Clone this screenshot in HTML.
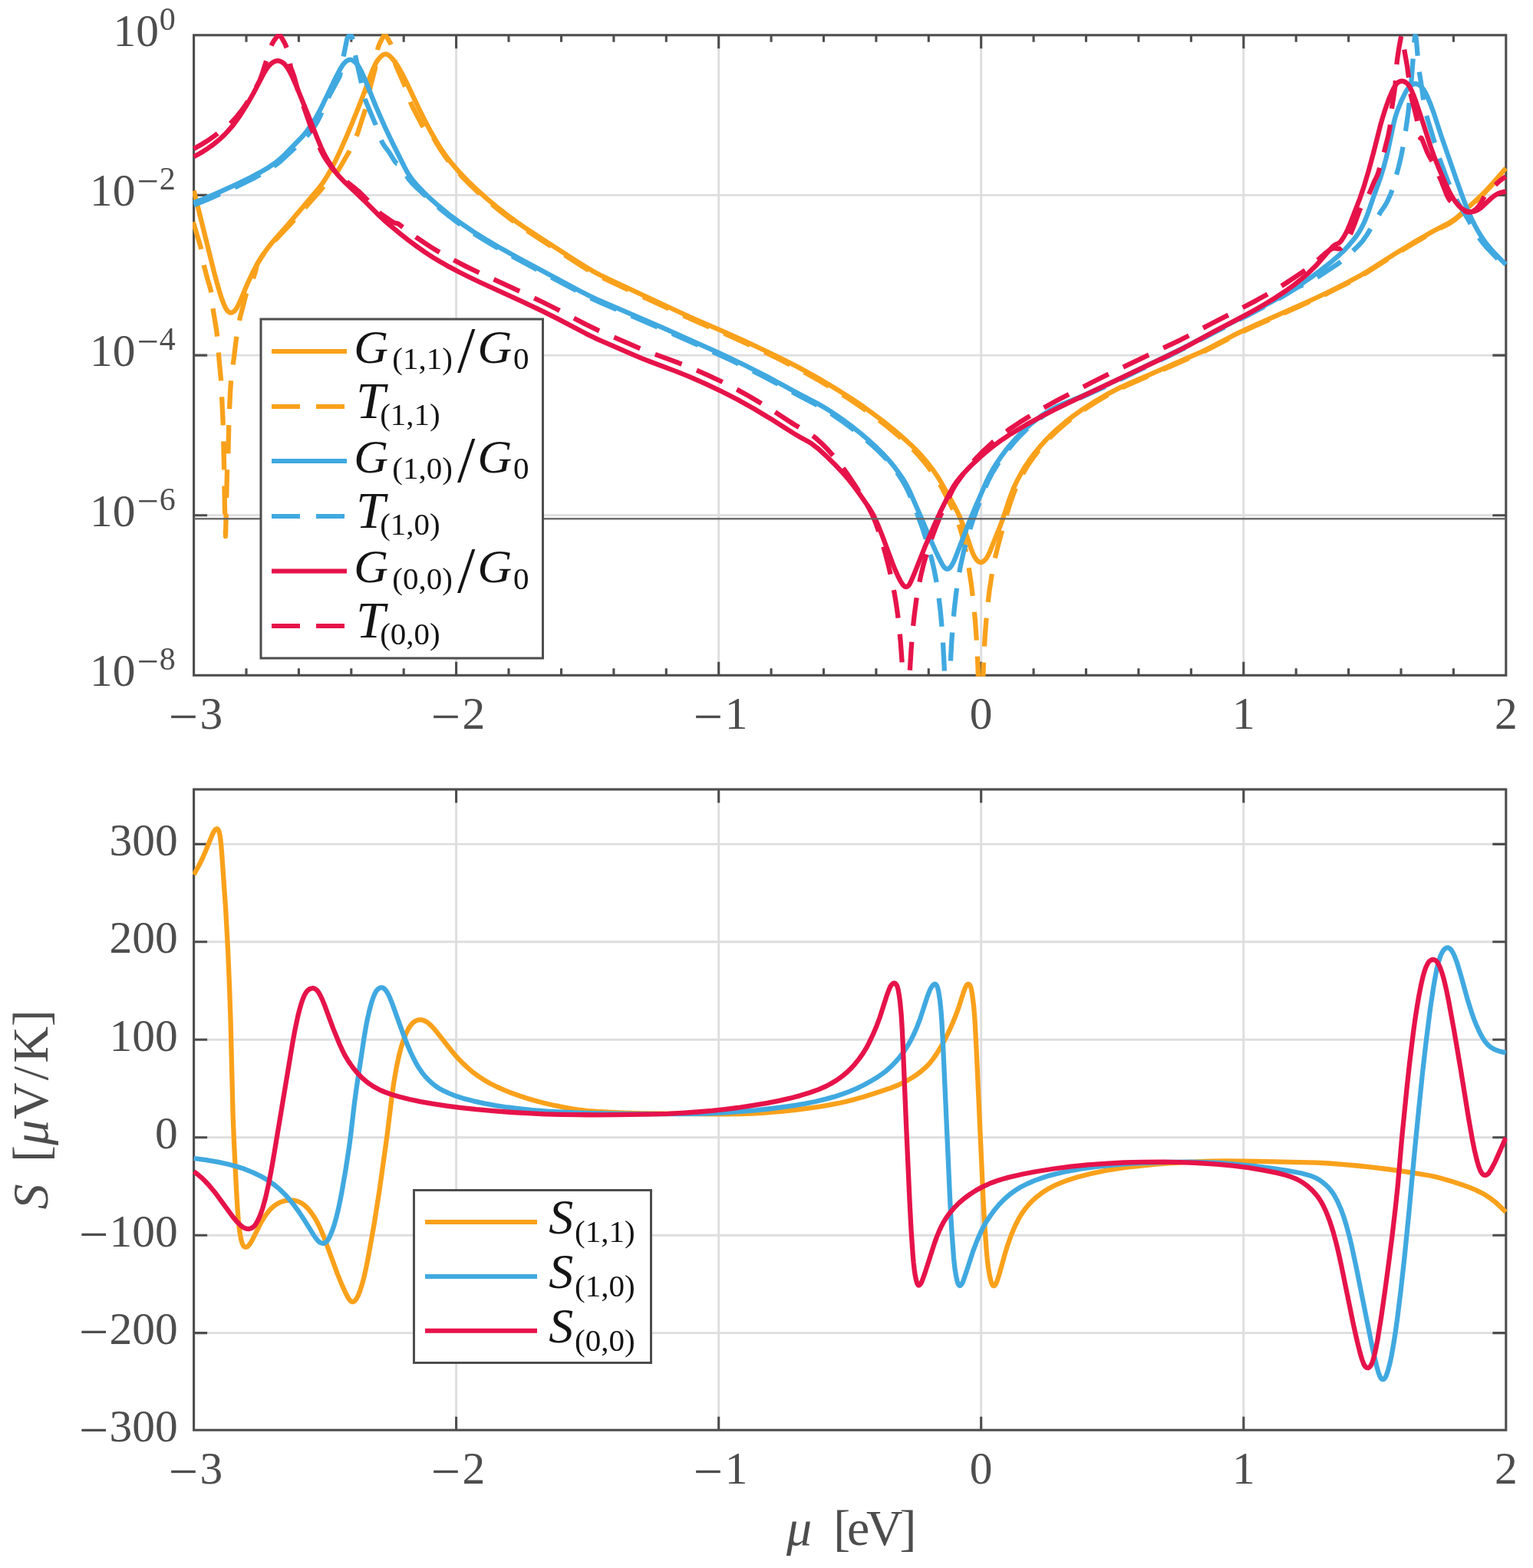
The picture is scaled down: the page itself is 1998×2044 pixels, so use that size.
<!DOCTYPE html>
<html lang="en"><head><meta charset="utf-8"><title>Conductance, transmission and thermopower</title>
<style>html,body{margin:0;padding:0;background:#fff}svg{display:block}</style></head>
<body>
<svg xmlns="http://www.w3.org/2000/svg" width="1998" height="2044" viewBox="0 0 1998 2044">
<rect width="1998" height="2044" fill="#fff"/>
<defs><clipPath id="ct"><rect x="251.1" y="44.3" width="1713.2" height="837.5"/></clipPath>
<clipPath id="cb"><rect x="251.1" y="1027.5" width="1713.2" height="838.2"/></clipPath></defs>
<g stroke="#dededf" stroke-width="2.9" fill="none">
<path d="M594.6,45.8V880.3 M594.6,1029.0V1864.2 M936.7,45.8V880.3 M936.7,1029.0V1864.2 M1278.7,45.8V880.3 M1278.7,1029.0V1864.2 M1620.8,45.8V880.3 M1620.8,1029.0V1864.2 M252.6,254.4H1962.8 M252.6,463.1H1962.8 M252.6,671.7H1962.8 M252.6,1100.4H1962.8 M252.6,1227.8H1962.8 M252.6,1355.2H1962.8 M252.6,1482.7H1962.8 M252.6,1610.2H1962.8 M252.6,1737.6H1962.8"/>
</g>
<g stroke="#4d4d4d" stroke-width="3.1" fill="none">
<rect x="252.6" y="45.8" width="1710.2" height="834.5"/>
<rect x="252.6" y="1029.0" width="1710.2" height="835.2"/>
<path d="M321.0,45.8v9.0 M321.0,880.3v-9.0 M389.4,45.8v9.0 M389.4,880.3v-9.0 M457.8,45.8v9.0 M457.8,880.3v-9.0 M526.2,45.8v9.0 M526.2,880.3v-9.0 M594.6,45.8v17.5 M594.6,880.3v-17.5 M594.6,1029.0v17.5 M594.6,1864.2v-17.5 M663.0,45.8v9.0 M663.0,880.3v-9.0 M731.5,45.8v9.0 M731.5,880.3v-9.0 M799.9,45.8v9.0 M799.9,880.3v-9.0 M868.3,45.8v9.0 M868.3,880.3v-9.0 M936.7,45.8v17.5 M936.7,880.3v-17.5 M936.7,1029.0v17.5 M936.7,1864.2v-17.5 M1005.1,45.8v9.0 M1005.1,880.3v-9.0 M1073.5,45.8v9.0 M1073.5,880.3v-9.0 M1141.9,45.8v9.0 M1141.9,880.3v-9.0 M1210.3,45.8v9.0 M1210.3,880.3v-9.0 M1278.7,45.8v17.5 M1278.7,880.3v-17.5 M1278.7,1029.0v17.5 M1278.7,1864.2v-17.5 M1347.1,45.8v9.0 M1347.1,880.3v-9.0 M1415.5,45.8v9.0 M1415.5,880.3v-9.0 M1483.9,45.8v9.0 M1483.9,880.3v-9.0 M1552.4,45.8v9.0 M1552.4,880.3v-9.0 M1620.8,45.8v17.5 M1620.8,880.3v-17.5 M1620.8,1029.0v17.5 M1620.8,1864.2v-17.5 M1689.2,45.8v9.0 M1689.2,880.3v-9.0 M1757.6,45.8v9.0 M1757.6,880.3v-9.0 M1826.0,45.8v9.0 M1826.0,880.3v-9.0 M1894.4,45.8v9.0 M1894.4,880.3v-9.0 M252.6,254.4h17.5 M1962.8,254.4h-17.5 M252.6,463.1h17.5 M1962.8,463.1h-17.5 M252.6,671.7h17.5 M1962.8,671.7h-17.5 M252.6,1100.4h17.5 M1962.8,1100.4h-17.5 M252.6,1227.8h17.5 M1962.8,1227.8h-17.5 M252.6,1355.2h17.5 M1962.8,1355.2h-17.5 M252.6,1482.7h17.5 M1962.8,1482.7h-17.5 M252.6,1610.2h17.5 M1962.8,1610.2h-17.5 M252.6,1737.6h17.5 M1962.8,1737.6h-17.5"/>
</g>
<g clip-path="url(#ct)" fill="none" stroke-width="6.3" stroke-linejoin="round">
<path d="M252.6,248.5 279.1,354.9 283.6,371.7 287.6,385.1 289.6,391.0 292.1,397.4 294.1,401.6 296.1,404.8 298.1,406.7 300.1,407.6 301.1,407.7 302.1,407.5 304.1,406.5 305.6,405.3 307.1,403.6 309.6,399.7 313.6,391.1 323.1,368.6 328.6,356.8 332.1,350.0 336.1,342.7 340.1,336.1 344.1,330.0 349.6,322.5 355.6,315.1 374.6,293.6 414.6,246.4 420.6,238.6 426.6,229.3 432.1,219.6 437.6,208.9 444.1,195.0 451.6,177.9 459.1,160.1 466.6,141.5 472.6,126.1 482.6,99.0 486.1,90.3 488.6,84.8 490.6,81.1 492.6,78.1 495.1,75.1 497.6,72.7 499.6,71.3 501.6,70.6 503.1,70.5 505.1,71.1 506.6,72.0 508.6,73.7 513.1,78.5 516.6,83.3 520.6,89.9 524.6,97.1 529.1,105.9 546.1,141.9 555.6,160.8 561.6,171.9 567.6,182.4 573.1,191.4 578.1,198.9 583.6,206.5 589.1,213.4 595.6,221.0 602.6,228.6 610.1,236.3 618.1,244.1 626.6,251.9 635.6,259.8 647.1,269.4 659.1,278.8 671.6,288.1 685.1,297.5 701.6,308.4 750.6,339.9 764.6,348.6 774.1,354.2 782.1,358.5 791.6,363.1 883.6,406.0 905.1,415.8 945.6,433.4 969.6,444.1 1000.1,458.5 1025.6,471.0 1042.1,479.6 1056.1,487.2 1070.6,495.5 1088.1,506.0 1101.6,514.4 1113.6,522.2 1126.1,530.7 1138.6,539.7 1151.6,549.5 1163.6,559.1 1175.6,569.3 1186.6,579.3 1194.6,587.1 1201.6,594.7 1209.1,603.6 1216.1,612.7 1221.6,620.7 1227.1,629.7 1242.6,657.2 1248.1,667.8 1251.6,675.6 1254.6,683.1 1257.6,691.5 1265.6,715.3 1267.6,720.5 1269.6,724.8 1272.1,728.9 1274.1,731.1 1275.1,731.9 1276.6,732.7 1278.6,733.1 1279.6,732.9 1281.1,732.2 1282.6,731.1 1284.1,729.6 1285.6,727.7 1287.1,725.3 1289.6,720.4 1304.1,684.3 1307.6,674.5 1315.6,650.5 1320.1,638.6 1323.1,631.8 1326.6,624.7 1331.1,616.4 1335.6,608.8 1341.6,599.9 1348.6,590.5 1355.6,581.9 1363.1,573.6 1370.6,566.0 1378.6,558.6 1388.1,550.6 1398.1,542.8 1412.1,532.8 1427.6,522.9 1442.6,514.1 1458.1,506.1 1472.6,499.4 1501.1,487.1 1567.1,458.1 1577.6,452.9 1606.6,437.7 1622.1,430.1 1635.1,424.1 1688.1,400.7 1711.6,390.0 1728.6,382.0 1752.6,370.0 1775.1,357.9 1784.6,352.1 1817.6,331.1 1840.6,317.1 1867.6,301.5 1876.6,296.7 1888.6,290.6 1894.6,286.7 1900.6,281.9 1910.1,273.5 1923.6,261.3 1932.1,253.2 1938.1,247.1 1944.6,240.0 1962.6,219.3" stroke="#F9A11B"/>
<path d="M251.8,289.3 261.5,321.9 262.8,327.7 265.2,342.6 266.4,348.4 270.5,363.9 273.7,374.5 274.9,379.3 275.9,386.2 277.8,404.1 282.2,430.8 283.3,439.7 285.7,470.6 288.0,494.5 290.6,549.4 291.9,601.4 292.9,659.4 294.0,699.2 296.1,611.2 297.4,591.3 298.4,547.3 300.2,509.3 301.2,494.4 302.3,484.4 304.9,466.6 307.8,442.8 310.2,427.0 313.0,413.3 316.6,399.7 319.5,388.0 320.9,383.2 322.7,378.6 327.5,369.8 329.3,365.2 332.7,354.7 333.9,349.9 335.0,344.7 339.6,337.1 344.1,330.5 349.1,324.0 355.1,316.9 379.1,291.6 412.6,254.0 418.6,246.9 425.1,238.7 428.1,235.6 434.6,229.8 437.6,226.5 439.6,223.9 442.1,220.0 455.1,197.5 461.6,184.3 466.1,173.8 477.1,139.6 478.6,133.2 483.1,111.4 488.6,90.7 489.6,84.1 491.6,67.8 492.6,62.6 494.6,57.2 499.1,48.4 500.6,46.3 501.1,45.9 502.1,45.9 503.1,46.7 504.6,49.0 508.6,56.0 510.6,60.4 511.6,63.6 512.1,65.9 514.6,80.1 515.6,84.2 518.1,90.3 529.1,115.2 530.6,119.4 534.1,130.7 535.6,135.0 538.6,141.3 552.6,167.9 553.1,168.6 554.1,169.5 555.1,169.6 557.1,169.2 558.1,169.2 559.1,169.8 559.6,170.4 570.1,188.6 574.6,195.7 578.6,201.6 583.1,207.8 588.1,214.2 594.1,221.3 600.1,228.0 611.6,239.8 624.1,251.7 638.1,263.9 652.6,275.8 662.1,283.1 672.6,290.8 683.6,298.5 695.1,306.2 758.6,347.0 769.1,353.4 778.1,358.4 794.1,366.3 890.1,411.1 908.6,419.4 955.6,439.9 992.1,456.8 1013.6,467.2 1033.1,477.1 1051.1,486.7 1067.6,496.1 1089.6,509.2 1107.6,520.6 1124.6,532.2 1141.6,544.6 1157.6,557.0 1172.6,569.7 1186.1,582.2 1192.1,588.1 1197.1,593.5 1206.6,604.7 1215.1,615.8 1221.6,625.4 1228.1,636.7 1238.6,657.3 1244.6,670.3 1247.1,676.5 1249.6,683.5 1252.1,691.4 1254.1,698.5 1256.6,708.7 1258.6,717.9 1262.6,739.4 1266.1,763.0 1269.1,788.5 1271.1,810.4 1273.1,839.9 1274.6,871.5 1275.6,901.6 1276.1,905.0 1280.1,905.0 1280.6,901.8 1282.1,859.9 1283.6,832.0 1285.1,811.3 1287.1,790.0 1289.6,769.3 1293.1,746.4 1296.6,728.4 1301.1,710.0 1311.6,672.3 1316.6,655.9 1321.6,641.9 1324.6,634.8 1327.6,628.3 1332.1,619.5 1336.1,612.4 1340.6,605.2 1345.6,597.9 1351.1,590.5 1357.1,583.0 1363.1,576.1 1369.6,569.3 1377.6,561.7 1387.1,553.4 1396.6,545.7 1406.6,538.3 1417.6,530.8 1429.1,523.5 1440.1,517.0 1451.6,510.7 1461.6,505.7 1471.6,501.1 1555.1,464.6 1567.6,459.0 1578.1,453.8 1606.6,438.8 1622.1,431.2 1635.1,425.2 1666.6,411.4 1691.6,400.1 1713.6,390.1 1730.1,382.3 1755.1,369.7 1768.6,362.5 1777.6,357.5 1785.6,352.6 1816.6,332.8 1840.6,318.2 1867.6,302.5 1876.6,297.7 1888.6,291.7 1894.6,287.7 1900.6,282.9 1910.1,274.6 1923.6,262.4 1932.1,254.3 1938.1,248.1 1944.6,241.1 1962.6,220.4" stroke="#F9A11B" stroke-dasharray="37 21" stroke-dashoffset="0.0"/>
<path d="M252.6,264.2 267.6,258.4 286.1,250.3 309.1,239.9 327.1,231.1 339.6,224.4 350.1,218.2 358.6,212.4 365.6,206.8 372.1,200.5 393.6,178.5 400.1,170.7 406.6,161.6 411.1,154.4 416.1,145.3 421.1,135.3 436.1,104.0 443.1,90.5 446.6,84.8 448.1,82.9 450.1,80.8 452.1,79.3 453.6,78.5 455.1,77.9 456.6,77.8 458.1,78.0 459.6,78.7 462.6,80.8 465.6,84.0 468.1,87.7 471.1,93.3 476.1,104.5 490.1,139.2 501.1,164.2 507.1,177.1 514.6,192.5 526.6,216.5 531.1,224.9 534.1,229.7 537.1,233.8 541.1,238.7 546.1,244.3 551.6,250.0 557.6,255.9 571.1,268.0 585.1,279.5 599.1,289.9 617.1,302.1 635.1,313.3 652.6,323.6 673.6,335.3 756.1,379.5 767.1,385.1 777.1,389.8 864.1,427.4 936.1,459.7 953.6,467.8 970.6,476.0 1000.1,491.0 1037.6,511.4 1065.1,525.8 1073.1,530.4 1081.6,535.7 1090.6,541.6 1099.1,547.5 1110.1,555.7 1121.6,564.9 1133.1,574.7 1143.6,584.4 1151.6,592.3 1158.6,600.0 1165.6,608.5 1172.1,617.3 1176.6,624.0 1180.1,629.8 1183.1,635.3 1186.1,641.4 1196.6,665.4 1214.1,706.6 1219.6,718.8 1224.6,729.1 1228.1,735.7 1230.6,739.4 1232.6,741.2 1233.6,741.7 1234.6,741.8 1235.6,741.7 1236.6,741.2 1238.6,739.5 1240.6,736.8 1243.1,732.0 1245.6,726.0 1262.1,683.2 1270.1,663.6 1286.1,626.8 1289.6,619.7 1293.6,612.5 1299.1,603.5 1304.6,595.4 1310.6,587.3 1317.1,579.3 1324.6,570.9 1332.1,563.1 1339.1,556.5 1346.6,550.2 1354.1,544.4 1361.6,539.1 1368.6,534.8 1375.6,530.9 1383.1,527.5 1397.6,521.7 1409.6,516.6 1431.1,506.9 1464.6,491.1 1530.6,459.3 1546.1,451.5 1583.6,431.8 1629.6,408.2 1658.1,393.0 1671.6,385.4 1684.1,377.8 1697.6,369.2 1709.6,360.9 1721.6,352.0 1735.6,340.9 1745.1,332.8 1752.1,326.1 1757.6,320.1 1762.6,314.3 1766.6,309.3 1769.6,305.1 1772.6,300.3 1775.1,295.8 1777.6,290.7 1780.1,285.0 1783.1,277.1 1790.1,256.8 1797.6,236.1 1800.6,227.2 1803.1,218.9 1806.1,208.0 1809.1,195.6 1816.6,160.1 1818.6,152.4 1820.6,146.2 1823.1,139.5 1826.1,132.2 1829.1,125.8 1832.1,119.9 1834.1,116.5 1836.1,113.8 1838.1,111.9 1840.1,110.6 1843.1,109.4 1845.6,109.2 1848.1,109.9 1851.1,111.8 1853.6,114.3 1855.6,117.0 1858.1,121.4 1861.1,127.7 1864.6,136.2 1868.6,147.1 1878.1,176.4 1899.6,238.3 1905.6,255.1 1910.1,266.9 1914.1,276.6 1918.1,285.5 1922.1,293.5 1926.1,300.8 1930.1,307.4 1934.1,313.3 1938.6,319.3 1942.6,324.1 1947.1,329.1 1962.6,344.9" stroke="#40A9E0"/>
<path d="M252.6,267.2 262.6,263.4 271.6,259.7 307.1,243.8 329.1,233.1 338.1,228.3 346.1,223.7 357.6,216.3 361.6,213.4 365.6,210.2 391.6,186.2 397.1,180.7 402.1,175.0 406.6,169.3 410.1,164.3 413.6,158.5 417.6,150.6 424.1,135.1 426.6,129.7 430.1,122.9 442.1,100.8 442.6,99.5 443.6,95.4 446.6,78.8 452.1,51.7 452.6,49.9 454.1,47.5 455.6,46.1 457.1,45.8 457.6,46.1 458.1,46.9 459.1,49.4 461.1,57.2 463.1,71.8 464.1,77.2 471.1,108.3 473.6,121.1 475.1,127.6 476.1,130.5 489.6,162.6 495.6,179.7 497.1,183.4 498.6,186.4 501.1,190.4 507.1,198.3 512.6,207.2 515.1,210.9 517.1,213.2 517.6,213.2 518.1,212.9 518.6,213.1 521.1,216.0 524.1,220.2 531.6,231.9 534.1,235.3 536.6,238.2 543.6,245.2 564.6,264.4 573.6,272.2 583.1,279.9 595.6,289.4 610.1,299.5 626.1,309.8 643.1,320.1 659.6,329.6 678.1,339.8 762.1,384.7 771.6,389.4 783.1,394.6 863.6,429.2 928.1,458.2 953.6,470.0 974.6,480.2 995.1,490.6 1011.1,499.1 1038.1,514.0 1064.6,527.9 1076.1,534.7 1088.6,542.8 1099.6,550.5 1112.6,560.2 1125.6,570.7 1137.1,580.6 1147.1,590.0 1155.1,598.3 1159.6,603.5 1164.1,609.1 1168.1,614.5 1172.1,620.3 1175.6,625.7 1179.1,631.7 1182.1,637.4 1184.6,642.7 1188.1,650.9 1193.1,663.5 1202.1,688.1 1208.6,708.3 1214.1,728.2 1217.6,743.3 1220.6,758.9 1223.1,775.0 1225.6,795.8 1227.6,817.8 1229.1,839.2 1230.6,867.8 1232.1,905.0 1237.1,905.0 1238.6,868.0 1240.1,839.5 1241.6,818.0 1243.6,795.6 1246.1,773.6 1249.1,753.0 1252.1,736.5 1256.1,718.6 1261.6,698.2 1267.6,679.2 1274.1,661.2 1284.6,634.6 1288.6,625.5 1292.6,617.7 1301.6,603.2 1307.6,594.4 1314.1,585.7 1321.6,576.7 1329.1,568.4 1336.6,560.9 1344.1,554.2 1352.6,547.3 1361.1,541.2 1369.1,536.1 1374.6,533.0 1380.6,530.1 1409.1,518.2 1435.6,506.1 1466.6,491.4 1531.1,460.2 1547.1,452.1 1582.1,433.6 1625.1,411.6 1650.1,398.5 1671.1,386.7 1691.1,374.5 1693.6,373.3 1700.1,370.6 1711.1,364.8 1718.6,360.3 1727.1,354.9 1742.6,344.6 1749.6,339.4 1760.1,330.2 1770.6,320.1 1776.1,313.9 1781.6,306.0 1791.1,290.6 1799.6,276.0 1805.1,268.0 1807.6,263.7 1812.6,252.7 1814.6,247.2 1822.6,218.5 1826.1,203.9 1828.1,193.6 1832.1,169.8 1835.1,148.9 1837.1,130.7 1839.6,103.5 1843.6,51.2 1844.1,47.4 1844.6,45.8 1845.1,46.7 1846.1,53.8 1848.6,84.2 1849.6,93.0 1851.6,104.7 1854.6,125.8 1856.6,138.5 1858.1,146.9 1858.6,148.9 1875.6,205.1 1877.6,210.8 1887.6,237.5 1891.6,246.6 1900.6,264.6 1912.6,284.5 1921.6,300.6 1926.6,308.5 1932.1,316.0 1938.1,323.1 1949.6,335.2 1962.6,348.4" stroke="#40A9E0" stroke-dasharray="37 21" stroke-dashoffset="0.0"/>
<path d="M252.6,204.3 259.1,200.8 265.1,197.2 271.1,193.3 276.6,189.4 282.1,185.1 287.1,180.8 292.1,176.1 296.6,171.4 302.1,165.2 307.1,158.8 312.1,151.7 318.1,142.4 324.1,132.5 330.1,122.0 344.1,95.1 346.6,91.0 349.1,87.5 351.1,85.1 353.6,82.8 356.1,81.0 358.6,79.8 361.1,79.2 363.1,79.3 365.1,79.8 367.6,81.0 370.6,83.3 373.6,86.9 377.1,92.5 380.6,99.3 386.6,113.1 400.6,147.5 413.6,180.4 418.6,192.3 421.6,198.7 424.6,204.4 429.1,212.0 433.6,219.2 436.6,223.4 440.1,227.8 449.1,237.3 475.6,262.4 495.1,282.0 501.1,287.5 509.1,294.4 521.6,304.7 533.1,313.7 544.1,321.9 554.1,328.9 563.6,335.1 573.1,340.8 585.6,347.9 598.6,354.8 610.6,360.8 624.6,367.5 679.6,392.7 707.1,405.7 727.1,415.6 763.6,434.8 779.1,442.3 824.1,461.9 837.6,467.6 849.6,472.3 880.6,483.9 898.1,490.9 918.6,499.9 938.6,509.3 960.6,520.5 982.6,532.8 1004.1,545.7 1035.6,565.6 1042.6,569.7 1053.1,575.4 1058.6,578.9 1066.1,584.7 1075.1,592.8 1088.6,606.0 1099.1,617.1 1106.1,625.3 1113.6,634.9 1121.1,645.2 1132.6,661.7 1135.6,666.6 1138.6,672.1 1141.6,678.3 1144.6,685.2 1149.6,697.7 1163.1,733.9 1166.6,742.6 1170.1,750.5 1173.6,757.5 1176.1,761.4 1177.6,763.2 1178.6,764.1 1180.1,764.9 1181.1,765.0 1182.6,764.6 1184.1,763.4 1185.6,761.2 1187.6,757.3 1191.1,749.1 1205.1,713.8 1219.1,681.2 1224.6,669.2 1229.6,658.9 1238.1,642.3 1242.6,634.3 1246.1,629.0 1250.1,623.8 1256.1,616.9 1263.1,609.5 1269.6,603.1 1276.6,596.6 1284.1,590.1 1292.1,583.6 1305.1,573.8 1318.1,565.2 1337.6,553.6 1357.1,542.9 1373.6,534.5 1392.1,525.4 1514.6,467.4 1537.1,456.5 1550.6,449.5 1583.6,431.6 1621.6,411.6 1635.6,403.9 1648.6,396.4 1662.1,388.2 1674.6,380.0 1686.1,371.7 1696.6,363.4 1705.6,355.6 1714.1,347.3 1720.6,340.2 1732.6,326.1 1736.6,321.8 1739.6,319.4 1744.6,317.1 1746.6,315.5 1749.1,312.4 1751.6,308.5 1754.1,304.0 1756.6,298.8 1759.6,291.6 1772.6,258.1 1777.6,243.3 1783.6,223.1 1790.1,199.2 1799.1,163.4 1802.1,153.0 1805.6,141.9 1810.6,127.9 1814.6,118.6 1817.1,113.8 1819.1,110.6 1820.6,108.8 1822.6,107.1 1824.6,106.1 1827.1,105.7 1829.1,105.9 1831.6,107.0 1833.6,108.5 1835.6,110.7 1837.1,112.9 1839.1,116.7 1842.1,123.6 1845.1,131.7 1853.6,156.9 1864.6,191.3 1869.1,203.8 1874.1,216.4 1883.6,238.7 1889.1,250.3 1892.1,255.7 1895.6,261.1 1898.6,265.2 1901.6,268.6 1904.1,270.9 1906.6,272.8 1909.1,274.2 1911.6,275.3 1914.1,275.9 1916.6,276.2 1919.1,276.0 1922.1,275.4 1925.6,273.9 1929.6,271.3 1933.6,267.8 1943.6,258.4 1946.6,256.0 1949.1,254.2 1952.1,252.5 1955.6,251.1 1959.1,250.2 1962.6,249.7" stroke="#E6134A"/>
<path d="M252.6,193.9 263.1,188.0 272.1,182.4 278.6,177.8 294.6,165.6 299.6,161.4 303.6,157.5 309.1,151.3 314.1,145.1 320.6,136.0 326.6,126.5 333.1,115.2 338.6,104.6 341.6,96.7 347.6,77.6 353.1,61.1 355.1,56.3 357.6,52.2 361.6,47.1 363.1,45.9 364.1,45.8 364.6,46.0 365.6,46.9 366.6,48.4 370.6,55.4 372.1,58.4 373.6,62.3 375.1,68.3 379.1,88.4 383.1,98.9 387.6,115.3 390.1,123.0 403.6,161.5 408.6,174.2 413.6,186.0 418.1,195.8 421.6,202.5 425.6,209.0 430.1,215.6 434.1,220.8 438.1,225.4 444.1,230.8 463.1,245.8 468.1,250.0 477.1,258.9 492.1,274.8 495.1,277.7 497.1,279.4 512.6,289.9 514.1,290.5 518.1,291.4 519.6,292.1 532.1,301.6 542.6,309.3 552.6,316.2 562.1,322.3 570.1,327.2 579.1,332.3 600.1,343.6 611.6,349.4 625.1,355.8 679.6,380.7 706.6,393.5 727.1,403.7 763.6,422.9 780.1,430.8 825.1,450.4 838.6,456.1 851.1,460.9 883.6,472.8 902.1,480.2 922.1,488.8 940.6,497.5 951.6,503.0 963.1,509.1 974.6,515.5 986.6,522.5 1006.6,534.8 1036.1,554.0 1054.1,564.4 1060.1,568.6 1064.6,572.3 1069.6,576.8 1076.1,583.2 1080.6,588.0 1087.1,595.5 1095.1,605.3 1099.6,611.1 1104.6,618.1 1111.6,628.4 1118.6,639.3 1126.1,651.6 1132.6,662.7 1135.6,668.5 1138.1,673.9 1140.6,680.0 1143.6,688.1 1147.1,698.5 1150.6,710.0 1154.1,722.5 1157.6,735.9 1160.6,748.4 1163.1,759.9 1165.6,772.7 1167.6,784.5 1169.6,798.1 1171.1,810.1 1173.6,835.2 1175.6,862.6 1177.6,903.1 1178.1,905.0 1184.1,905.0 1184.6,902.7 1186.1,870.1 1187.6,846.0 1189.6,821.4 1191.6,802.3 1194.1,783.3 1196.6,768.0 1200.1,750.5 1203.6,736.1 1208.1,720.3 1213.6,703.6 1219.6,687.3 1226.1,671.4 1235.6,650.8 1242.1,637.7 1247.1,629.4 1253.6,620.5 1264.6,606.3 1272.6,596.9 1282.1,587.3 1293.1,577.2 1303.6,568.4 1314.6,560.2 1328.6,550.8 1345.1,540.6 1360.6,531.5 1377.6,522.1 1393.6,513.7 1423.6,498.3 1449.1,485.6 1539.1,442.8 1551.1,436.6 1580.6,421.0 1618.1,401.8 1636.6,392.1 1651.1,384.0 1664.1,376.5 1676.1,369.0 1687.6,361.4 1701.6,351.8 1708.6,346.6 1715.6,340.7 1727.1,330.3 1732.6,326.2 1736.1,324.3 1738.6,323.7 1740.6,323.7 1744.1,324.4 1746.1,324.2 1748.1,323.2 1750.1,321.5 1752.1,319.4 1754.1,316.7 1756.1,313.5 1758.1,309.6 1761.1,302.8 1765.1,292.9 1772.1,273.9 1773.6,270.3 1776.1,265.8 1781.1,258.8 1783.1,255.3 1785.6,249.9 1791.1,236.6 1794.6,229.8 1796.6,224.3 1800.1,211.2 1804.6,195.6 1809.1,177.8 1811.6,165.3 1814.1,140.5 1817.6,117.5 1818.6,109.3 1820.1,86.6 1821.1,77.3 1823.1,63.6 1826.1,47.5 1826.6,45.8 1827.1,46.5 1828.1,50.8 1830.1,64.0 1834.1,86.8 1836.1,102.0 1837.6,118.4 1839.6,127.7 1844.1,144.9 1846.1,153.2 1847.6,160.8 1849.6,173.5 1850.6,178.5 1851.1,180.2 1851.6,180.3 1852.1,179.6 1852.6,179.8 1853.6,181.8 1860.1,198.4 1862.1,202.4 1867.1,211.3 1874.1,226.1 1878.6,236.3 1885.6,254.1 1887.1,257.2 1889.1,260.5 1890.6,262.3 1892.6,264.0 1898.6,267.9 1904.1,272.4 1907.6,274.6 1910.6,275.9 1913.6,276.6 1916.1,276.6 1918.6,276.0 1920.6,274.9 1923.1,273.1 1925.1,271.2 1927.6,268.4 1930.1,264.6 1936.1,253.7 1937.6,251.5 1939.1,249.9 1943.1,246.0 1949.1,240.9 1954.6,235.7 1958.1,233.1 1962.6,230.2" stroke="#E6134A" stroke-dasharray="37 21" stroke-dashoffset="0.0"/>
</g>
<path d="M252.6,676.2H1962.8" stroke="#636363" stroke-opacity="0.92" stroke-width="2.6" fill="none"/>
<g clip-path="url(#cb)" fill="none" stroke-width="6.3" stroke-linejoin="round">
<path d="M252.6,1140.3 259.1,1128.5 263.6,1119.5 267.1,1111.5 276.6,1088.3 278.1,1085.1 279.6,1082.6 281.1,1081.0 282.1,1080.5 283.1,1080.5 284.1,1081.3 285.1,1082.9 285.6,1084.3 286.6,1088.6 287.1,1091.8 288.1,1100.6 289.1,1112.4 294.1,1184.3 297.1,1239.1 299.1,1287.6 300.6,1331.9 303.6,1453.6 305.1,1490.8 308.1,1551.3 309.6,1576.5 310.6,1589.3 311.6,1599.2 312.6,1606.8 313.6,1612.8 314.6,1617.2 315.6,1620.5 316.6,1622.9 317.6,1624.4 318.6,1625.2 319.6,1625.6 321.1,1625.7 322.1,1625.3 323.1,1624.6 324.6,1623.0 326.1,1621.0 328.6,1616.8 339.1,1595.8 341.6,1591.3 344.6,1586.4 348.1,1581.5 351.6,1577.3 355.1,1573.8 359.1,1570.6 362.6,1568.5 366.6,1566.7 370.6,1565.5 374.6,1564.8 379.6,1564.6 384.1,1565.0 388.1,1566.0 391.6,1567.6 394.6,1569.4 397.6,1571.8 400.6,1574.6 403.1,1577.5 405.6,1580.7 408.6,1585.0 411.6,1589.8 414.1,1594.4 418.1,1602.8 422.1,1612.5 427.6,1627.1 439.6,1660.1 445.6,1674.9 450.6,1685.8 453.6,1691.6 455.1,1693.8 456.6,1695.6 458.1,1696.7 459.1,1697.1 460.1,1697.0 461.6,1696.3 462.6,1695.5 464.1,1693.7 466.6,1689.3 469.1,1683.0 472.1,1673.5 474.6,1664.1 477.1,1653.0 480.1,1637.9 487.6,1595.9 494.6,1551.2 504.6,1479.6 510.6,1430.6 513.1,1412.3 516.6,1392.0 520.1,1375.6 523.1,1364.3 526.1,1355.0 529.1,1347.4 532.6,1340.6 535.6,1336.1 537.1,1334.4 539.1,1332.5 541.1,1331.2 543.1,1330.2 545.1,1329.6 547.1,1329.3 548.6,1329.3 550.6,1329.7 554.1,1331.0 557.6,1333.2 561.1,1336.2 564.1,1339.3 568.1,1343.9 588.1,1369.3 593.1,1375.3 598.1,1380.8 604.1,1386.9 610.6,1392.9 617.1,1398.3 624.1,1403.4 631.1,1407.9 639.1,1412.5 648.1,1417.0 657.6,1421.2 666.6,1424.8 677.1,1428.5 689.1,1432.4 700.6,1435.7 711.6,1438.5 723.6,1441.2 735.6,1443.6 746.6,1445.5 756.6,1447.0 766.6,1448.1 777.6,1449.0 790.1,1449.7 812.1,1450.7 835.1,1451.3 931.6,1452.4 949.1,1452.4 964.1,1452.1 979.1,1451.6 993.6,1450.8 1008.1,1449.7 1023.1,1448.3 1039.1,1446.5 1054.1,1444.6 1068.1,1442.6 1081.1,1440.4 1092.6,1438.2 1103.6,1435.7 1114.1,1433.1 1125.1,1429.9 1144.6,1423.7 1161.1,1418.2 1168.6,1415.3 1175.6,1412.1 1182.6,1408.4 1189.1,1404.6 1194.6,1401.0 1200.1,1396.9 1205.1,1392.6 1209.1,1388.8 1212.6,1384.9 1216.1,1380.4 1220.1,1374.6 1224.1,1368.3 1229.1,1359.6 1233.6,1351.0 1238.1,1341.6 1242.1,1332.4 1245.6,1323.8 1249.1,1314.4 1255.6,1294.1 1258.1,1287.4 1259.1,1285.4 1260.6,1283.4 1261.6,1282.8 1262.6,1282.9 1263.6,1283.7 1264.1,1284.4 1265.1,1286.5 1266.1,1290.3 1267.1,1295.8 1269.1,1311.4 1270.6,1330.5 1272.6,1368.6 1281.6,1566.6 1283.1,1593.5 1285.6,1628.6 1286.6,1640.0 1287.6,1649.0 1288.6,1655.9 1290.1,1664.2 1291.6,1670.4 1292.6,1673.3 1294.1,1675.8 1295.1,1676.3 1296.1,1676.0 1297.6,1674.2 1298.6,1672.3 1299.6,1669.8 1302.6,1660.4 1309.6,1635.1 1313.1,1623.5 1318.1,1609.5 1323.1,1597.7 1328.1,1588.0 1330.6,1583.8 1333.6,1579.3 1336.6,1575.2 1340.1,1571.0 1343.6,1567.2 1347.1,1563.8 1351.6,1559.9 1356.1,1556.4 1360.6,1553.2 1365.6,1550.1 1370.6,1547.4 1376.1,1544.7 1382.1,1542.1 1388.6,1539.6 1396.1,1537.0 1404.1,1534.5 1420.6,1530.2 1439.6,1526.2 1459.6,1523.0 1474.1,1521.0 1490.1,1519.3 1506.6,1517.7 1523.6,1516.4 1545.1,1515.1 1564.1,1514.2 1580.1,1513.7 1597.6,1513.5 1638.6,1513.8 1716.6,1515.7 1732.1,1516.5 1749.6,1517.8 1768.1,1519.5 1788.1,1521.6 1807.6,1524.0 1827.1,1526.7 1847.6,1529.8 1863.6,1532.5 1871.1,1534.1 1879.1,1536.2 1892.1,1540.1 1905.1,1544.2 1914.6,1547.6 1923.1,1551.2 1930.6,1554.8 1937.6,1558.8 1943.6,1562.9 1949.6,1567.6 1954.6,1572.2 1962.6,1580.1" stroke="#F9A11B"/>
<path d="M252.6,1510.0 268.6,1512.2 284.6,1514.9 296.6,1517.5 308.1,1520.5 319.1,1524.1 329.6,1528.3 339.6,1533.1 348.6,1538.3 356.6,1543.8 364.1,1549.9 371.1,1556.7 378.1,1564.6 384.6,1572.8 390.6,1581.2 397.1,1591.1 408.6,1609.7 411.6,1614.0 414.1,1617.1 415.6,1618.5 417.1,1619.7 419.6,1620.7 421.1,1620.8 422.1,1620.6 423.6,1620.0 425.1,1618.9 426.6,1617.3 427.6,1615.9 430.1,1611.2 433.1,1604.0 435.6,1596.7 438.1,1588.0 440.6,1577.8 443.1,1566.2 445.6,1553.2 450.6,1524.2 455.1,1494.9 457.1,1479.7 462.1,1436.7 465.1,1415.1 474.6,1352.2 477.1,1337.5 479.1,1327.4 481.1,1318.6 483.6,1309.0 485.6,1302.6 487.6,1297.3 489.6,1293.2 491.6,1290.4 493.6,1288.6 495.1,1287.7 496.1,1287.4 497.6,1287.3 498.6,1287.5 500.1,1288.3 501.6,1289.5 504.1,1292.7 506.6,1297.3 508.6,1301.8 511.6,1309.4 524.6,1345.6 531.1,1362.3 535.1,1371.5 539.1,1379.9 542.6,1386.5 546.1,1392.3 550.1,1398.1 554.1,1403.1 558.6,1407.9 563.6,1412.5 568.1,1416.0 573.1,1419.3 578.6,1422.2 585.6,1425.4 595.1,1429.1 605.6,1432.4 617.1,1435.3 631.1,1438.4 645.6,1441.1 661.6,1443.5 677.6,1445.5 694.1,1447.2 712.6,1448.6 732.1,1449.7 753.6,1450.6 784.6,1451.5 827.1,1452.2 888.6,1452.2 907.6,1451.9 926.1,1451.3 945.1,1450.3 966.1,1448.8 984.6,1447.3 1001.6,1445.5 1020.1,1443.2 1036.6,1440.8 1049.6,1438.6 1062.6,1436.0 1075.6,1432.9 1086.6,1429.9 1097.1,1426.5 1107.1,1422.9 1116.6,1418.8 1125.6,1414.5 1134.6,1409.6 1142.6,1404.8 1149.6,1400.0 1155.6,1395.4 1161.6,1390.0 1167.1,1384.4 1172.6,1378.0 1177.6,1371.4 1182.1,1364.6 1186.6,1356.9 1190.6,1349.1 1194.1,1341.3 1199.1,1328.4 1208.6,1299.2 1211.6,1291.4 1213.6,1287.4 1215.1,1285.1 1217.1,1283.2 1218.1,1282.7 1218.6,1282.7 1219.1,1282.9 1220.1,1283.7 1221.1,1285.1 1222.1,1287.7 1223.1,1291.8 1225.1,1304.3 1226.6,1319.4 1227.6,1333.9 1229.1,1362.5 1238.1,1562.5 1239.1,1582.6 1240.6,1607.2 1243.1,1640.8 1244.6,1654.5 1246.1,1663.5 1247.6,1670.3 1248.6,1673.3 1249.1,1674.3 1250.1,1675.6 1251.1,1676.0 1251.6,1675.9 1252.6,1675.1 1254.1,1672.9 1255.1,1670.7 1260.1,1656.1 1268.6,1629.8 1273.1,1618.0 1278.1,1606.4 1281.6,1599.4 1285.6,1592.5 1290.6,1584.9 1295.6,1578.1 1302.1,1570.3 1308.6,1563.6 1315.6,1557.4 1323.1,1551.9 1330.6,1547.3 1339.1,1543.0 1348.6,1538.9 1359.6,1535.0 1367.1,1532.6 1374.6,1530.6 1391.1,1526.8 1409.1,1523.6 1429.1,1520.8 1451.1,1518.6 1476.1,1516.7 1501.6,1515.5 1529.1,1514.8 1550.1,1514.7 1569.1,1515.1 1588.6,1516.0 1609.6,1517.6 1635.6,1520.2 1657.1,1522.8 1677.1,1525.9 1696.6,1529.5 1706.6,1532.2 1710.6,1533.6 1714.6,1535.3 1718.1,1537.2 1721.1,1539.2 1724.6,1541.8 1728.1,1544.8 1731.1,1547.7 1733.6,1550.5 1736.1,1553.8 1738.6,1557.5 1743.1,1565.7 1747.6,1575.9 1751.1,1585.5 1754.6,1596.7 1758.6,1611.5 1762.1,1626.1 1768.1,1654.3 1787.6,1751.7 1790.6,1765.5 1794.1,1780.3 1796.6,1789.3 1798.6,1794.5 1799.6,1796.3 1800.6,1797.5 1801.6,1798.1 1802.6,1798.2 1803.6,1797.8 1804.6,1796.8 1805.6,1795.4 1806.6,1793.5 1809.1,1786.2 1811.6,1776.6 1813.6,1767.1 1816.1,1753.1 1818.6,1737.2 1821.1,1719.5 1825.6,1683.2 1830.6,1637.8 1836.1,1582.9 1843.6,1501.9 1849.6,1441.3 1854.1,1397.8 1858.6,1358.3 1864.1,1314.6 1868.6,1284.8 1871.1,1270.7 1873.1,1260.9 1875.1,1253.1 1877.1,1247.0 1878.6,1243.4 1880.6,1239.8 1882.6,1237.3 1884.6,1235.8 1886.6,1235.3 1887.6,1235.4 1888.6,1235.8 1890.6,1237.3 1892.1,1239.3 1893.6,1241.8 1895.6,1246.0 1897.6,1251.1 1899.6,1256.9 1903.6,1270.2 1913.1,1304.3 1918.6,1321.7 1921.6,1329.8 1924.6,1337.3 1927.6,1344.0 1930.1,1348.9 1933.1,1354.1 1936.1,1358.4 1939.1,1361.8 1942.6,1364.9 1946.6,1367.3 1951.1,1369.3 1956.1,1370.9 1962.6,1372.3" stroke="#40A9E0"/>
<path d="M252.6,1527.2 258.1,1531.3 262.6,1535.1 267.6,1540.0 273.1,1545.9 278.1,1551.9 283.1,1558.3 303.6,1586.4 309.1,1592.9 314.1,1597.8 316.6,1599.7 319.1,1601.0 322.1,1601.9 324.6,1602.0 327.1,1601.3 329.6,1599.8 331.6,1598.0 333.6,1595.3 336.1,1590.9 338.1,1586.6 340.1,1581.5 342.1,1575.7 346.1,1561.4 350.6,1541.1 353.6,1525.3 357.6,1502.3 381.1,1360.8 384.6,1341.7 388.1,1325.3 390.1,1317.2 392.6,1308.5 394.6,1302.6 396.6,1297.7 398.6,1294.1 400.6,1291.5 403.1,1289.5 405.6,1288.5 407.6,1288.2 409.1,1288.4 410.6,1289.0 412.1,1290.0 414.6,1292.7 417.6,1297.8 420.1,1303.1 422.6,1309.2 434.1,1340.4 442.6,1361.2 446.1,1368.9 449.6,1375.8 453.1,1381.7 456.6,1387.0 461.6,1393.8 466.1,1399.1 471.1,1404.3 476.1,1408.7 481.6,1412.9 487.6,1416.8 493.6,1420.1 500.1,1423.0 509.6,1426.5 520.6,1429.8 533.6,1433.0 548.1,1436.1 564.1,1438.9 582.1,1441.6 601.6,1444.1 620.6,1446.2 642.6,1448.1 667.1,1450.0 687.6,1451.2 710.6,1452.3 731.1,1452.9 752.6,1453.2 778.1,1453.3 805.6,1453.2 851.6,1452.4 870.6,1451.8 888.6,1450.8 909.1,1449.5 928.1,1447.9 944.6,1446.1 961.6,1444.0 980.6,1441.1 1000.1,1437.8 1015.6,1434.8 1029.6,1431.7 1043.1,1428.1 1055.6,1424.3 1067.1,1420.1 1076.6,1416.0 1083.6,1412.3 1090.6,1408.0 1097.1,1403.4 1103.6,1398.0 1109.1,1392.7 1114.1,1387.3 1119.6,1380.4 1124.6,1373.4 1128.6,1366.9 1132.6,1359.4 1137.6,1348.9 1142.1,1338.5 1146.6,1326.5 1156.1,1296.8 1159.6,1287.6 1161.1,1284.9 1162.6,1283.1 1164.1,1281.9 1165.6,1281.5 1166.1,1281.6 1167.1,1282.2 1168.6,1284.1 1169.6,1286.3 1170.6,1290.0 1172.1,1298.6 1173.1,1306.2 1174.6,1322.2 1175.6,1337.9 1176.6,1357.9 1181.1,1466.6 1185.6,1566.5 1187.6,1604.4 1189.6,1633.9 1190.6,1645.5 1191.6,1654.4 1192.6,1661.3 1194.1,1668.9 1195.1,1672.4 1195.6,1673.6 1196.6,1675.1 1197.1,1675.5 1197.6,1675.5 1198.1,1675.4 1199.1,1674.6 1200.6,1672.4 1202.1,1669.0 1205.6,1659.1 1217.6,1621.6 1221.1,1611.9 1224.1,1604.6 1227.1,1598.2 1230.1,1592.6 1233.6,1587.0 1237.1,1582.2 1243.1,1575.0 1249.6,1568.4 1256.6,1562.4 1264.1,1556.9 1272.6,1551.4 1281.6,1546.6 1290.6,1542.5 1300.1,1539.0 1306.6,1537.0 1314.1,1534.9 1333.1,1530.5 1351.6,1527.0 1373.6,1523.5 1395.6,1520.7 1418.1,1518.4 1440.1,1516.8 1464.6,1515.5 1489.1,1514.9 1516.1,1514.7 1539.1,1515.1 1561.6,1516.0 1585.6,1517.6 1607.1,1519.6 1627.1,1522.2 1646.1,1525.3 1664.1,1528.9 1676.1,1532.0 1681.6,1533.7 1686.6,1535.6 1691.1,1537.7 1695.1,1539.8 1699.6,1542.7 1703.6,1545.7 1708.1,1549.6 1712.1,1553.6 1715.6,1557.6 1718.6,1561.5 1721.6,1566.1 1724.1,1570.6 1728.6,1580.1 1733.1,1591.8 1737.6,1606.0 1741.6,1620.8 1745.1,1635.5 1748.6,1651.6 1764.1,1727.3 1769.1,1749.5 1772.6,1763.5 1775.1,1772.0 1777.6,1778.6 1778.6,1780.4 1780.1,1782.1 1781.6,1783.0 1782.6,1783.2 1783.6,1783.0 1784.6,1782.4 1786.1,1780.8 1787.1,1779.2 1788.6,1775.8 1790.6,1769.3 1792.6,1761.1 1795.1,1748.5 1800.1,1717.4 1805.1,1682.6 1810.1,1645.4 1814.6,1610.0 1818.6,1575.7 1821.6,1547.2 1827.1,1483.5 1833.6,1418.2 1837.1,1385.8 1842.1,1345.2 1844.6,1327.1 1847.1,1310.9 1849.6,1296.5 1852.1,1283.8 1854.6,1272.9 1856.6,1265.9 1858.6,1260.4 1861.1,1255.5 1862.1,1254.0 1863.6,1252.5 1865.1,1251.5 1866.6,1251.0 1868.1,1250.9 1869.6,1251.3 1871.1,1252.1 1872.6,1253.4 1874.6,1256.3 1877.1,1261.6 1879.6,1268.7 1882.1,1277.5 1885.1,1290.4 1888.1,1305.0 1895.1,1343.3 1903.6,1393.1 1914.1,1457.9 1919.1,1486.4 1921.6,1498.7 1924.6,1511.4 1927.1,1520.1 1929.1,1525.5 1930.1,1527.5 1931.6,1529.7 1933.1,1531.1 1934.6,1531.9 1936.1,1532.0 1937.6,1531.5 1939.1,1530.4 1940.6,1528.9 1943.6,1524.2 1948.6,1514.6 1962.6,1483.1" stroke="#E6134A"/>
</g>
<rect x="340" y="416" width="367.5" height="442" fill="#fff" stroke="#4d4d4d" stroke-width="3"/>
<path d="M354,458.0H452" stroke="#F9A11B" stroke-width="6"/>
<path d="M354,530.0H449" stroke="#F9A11B" stroke-width="6" stroke-dasharray="37 21"/>
<path d="M354,601.0H452" stroke="#40A9E0" stroke-width="6"/>
<path d="M354,673.0H449" stroke="#40A9E0" stroke-width="6" stroke-dasharray="37 21"/>
<path d="M354,744.5H452" stroke="#E6134A" stroke-width="6"/>
<path d="M354,816.0H449" stroke="#E6134A" stroke-width="6" stroke-dasharray="37 21"/>
<rect x="539.5" y="1551.5" width="309" height="225" fill="#fff" stroke="#4d4d4d" stroke-width="3"/>
<path d="M554,1593.0H700" stroke="#F9A11B" stroke-width="6"/>
<path d="M554,1664.0H700" stroke="#40A9E0" stroke-width="6"/>
<path d="M554,1734.7H700" stroke="#E6134A" stroke-width="6"/>
<g font-family="'Liberation Serif', 'DejaVu Serif', serif" fill="#4d4d4d">
<text ><tspan x="219.7" y="956.9" font-size="68.0">−</tspan><tspan x="260.6" y="949.6" font-size="59.5">3</tspan></text>
<text ><tspan x="219.7" y="1941.3" font-size="68.0">−</tspan><tspan x="260.6" y="1934.0" font-size="59.5">3</tspan></text>
<text ><tspan x="561.8" y="956.9" font-size="68.0">−</tspan><tspan x="602.6" y="949.6" font-size="59.5">2</tspan></text>
<text ><tspan x="561.8" y="1941.3" font-size="68.0">−</tspan><tspan x="602.6" y="1934.0" font-size="59.5">2</tspan></text>
<text ><tspan x="903.8" y="956.9" font-size="68.0">−</tspan><tspan x="944.7" y="949.6" font-size="59.5">1</tspan></text>
<text ><tspan x="903.8" y="1941.3" font-size="68.0">−</tspan><tspan x="944.7" y="1934.0" font-size="59.5">1</tspan></text>
<text ><tspan x="1263.8" y="949.6" font-size="59.5">0</tspan></text>
<text ><tspan x="1263.8" y="1934.0" font-size="59.5">0</tspan></text>
<text ><tspan x="1605.9" y="949.6" font-size="59.5">1</tspan></text>
<text ><tspan x="1605.9" y="1934.0" font-size="59.5">1</tspan></text>
<text ><tspan x="1947.9" y="949.6" font-size="59.5">2</tspan></text>
<text ><tspan x="1947.9" y="1934.0" font-size="59.5">2</tspan></text>
<text ><tspan x="142.6" y="1114.7" font-size="59.5">300</tspan></text>
<text ><tspan x="142.6" y="1242.1" font-size="59.5">200</tspan></text>
<text ><tspan x="142.6" y="1369.5" font-size="59.5">100</tspan></text>
<text ><tspan x="202.1" y="1497.0" font-size="59.5">0</tspan></text>
<text ><tspan x="103.0" y="1631.8" font-size="68.0">−</tspan><tspan x="142.6" y="1624.5" font-size="59.5">100</tspan></text>
<text ><tspan x="103.0" y="1759.2" font-size="68.0">−</tspan><tspan x="142.6" y="1751.9" font-size="59.5">200</tspan></text>
<text ><tspan x="103.0" y="1886.6" font-size="68.0">−</tspan><tspan x="142.6" y="1879.3" font-size="59.5">300</tspan></text>
<text ><tspan x="147.4" y="59.6" font-size="59.5">10</tspan><tspan x="207.8" y="38.6" font-size="42.0">0</tspan></text>
<text ><tspan x="117.1" y="268.2" font-size="59.5">10</tspan><tspan x="178.6" y="253.1" font-size="50.0">−</tspan><tspan x="207.8" y="247.2" font-size="42.0">2</tspan></text>
<text ><tspan x="117.1" y="476.9" font-size="59.5">10</tspan><tspan x="178.6" y="461.8" font-size="50.0">−</tspan><tspan x="207.8" y="455.9" font-size="42.0">4</tspan></text>
<text ><tspan x="117.1" y="685.5" font-size="59.5">10</tspan><tspan x="178.6" y="670.4" font-size="50.0">−</tspan><tspan x="207.8" y="664.5" font-size="42.0">6</tspan></text>
<text ><tspan x="117.1" y="894.1" font-size="59.5">10</tspan><tspan x="178.6" y="879.0" font-size="50.0">−</tspan><tspan x="207.8" y="873.1" font-size="42.0">8</tspan></text>
</g>
<g font-family="'Liberation Serif', 'DejaVu Serif', serif" fill="#4d4d4d">
<text x="1025" y="2013.9" font-size="66.0"><tspan font-style="italic">μ</tspan><tspan dx="16" letter-spacing="-4.3"> [eV]</tspan></text>
<text transform="translate(62,1576.5) rotate(-90)" font-size="66.0"><tspan font-style="italic">S</tspan><tspan dx="12"> [</tspan><tspan font-style="italic">μ</tspan><tspan dx="1">V</tspan><tspan dx="3">/</tspan><tspan dx="4">K]</tspan></text>
</g>
<g font-family="'Liberation Serif', 'DejaVu Serif', serif" fill="#141414">
<text ><tspan x="461.2" y="472.7" font-size="62.0" font-style="italic">G</tspan><tspan x="511.3" y="481.4" font-size="41.0">(1,1)</tspan><tspan x="596.0" y="485.3" font-size="84.0">/</tspan><tspan x="622.6" y="472.7" font-size="62.0" font-style="italic">G</tspan><tspan x="669.0" y="481.4" font-size="41.0">0</tspan></text>
<text ><tspan x="464.0" y="545.0" font-size="68.0" font-style="italic">T</tspan><tspan x="495.2" y="553.7" font-size="41.0">(1,1)</tspan></text>
<text ><tspan x="461.2" y="615.7" font-size="62.0" font-style="italic">G</tspan><tspan x="511.3" y="624.4" font-size="41.0">(1,0)</tspan><tspan x="596.0" y="628.3" font-size="84.0">/</tspan><tspan x="622.6" y="615.7" font-size="62.0" font-style="italic">G</tspan><tspan x="669.0" y="624.4" font-size="41.0">0</tspan></text>
<text ><tspan x="464.0" y="688.0" font-size="68.0" font-style="italic">T</tspan><tspan x="495.2" y="696.7" font-size="41.0">(1,0)</tspan></text>
<text ><tspan x="461.2" y="759.2" font-size="62.0" font-style="italic">G</tspan><tspan x="511.3" y="767.9" font-size="41.0">(0,0)</tspan><tspan x="596.0" y="771.8" font-size="84.0">/</tspan><tspan x="622.6" y="759.2" font-size="62.0" font-style="italic">G</tspan><tspan x="669.0" y="767.9" font-size="41.0">0</tspan></text>
<text ><tspan x="464.0" y="831.0" font-size="68.0" font-style="italic">T</tspan><tspan x="495.2" y="839.7" font-size="41.0">(0,0)</tspan></text>
<text ><tspan x="715.3" y="1608.3" font-size="64.0" font-style="italic">S</tspan><tspan x="749.0" y="1618.8" font-size="41.0">(1,1)</tspan></text>
<text ><tspan x="715.3" y="1679.3" font-size="64.0" font-style="italic">S</tspan><tspan x="749.0" y="1689.8" font-size="41.0">(1,0)</tspan></text>
<text ><tspan x="715.3" y="1750.0" font-size="64.0" font-style="italic">S</tspan><tspan x="749.0" y="1760.5" font-size="41.0">(0,0)</tspan></text>
</g>
</svg>
</body></html>
